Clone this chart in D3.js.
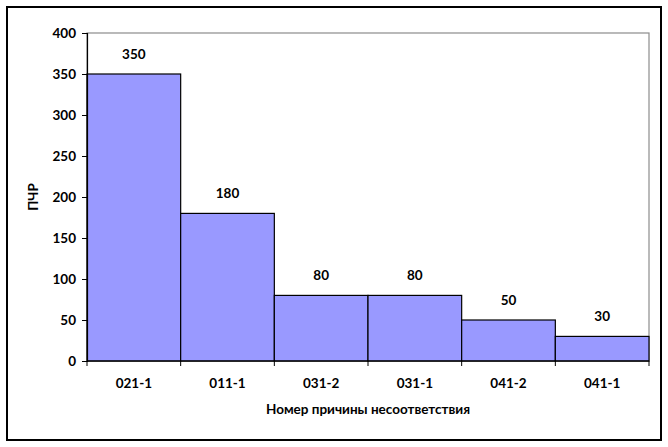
<!DOCTYPE html>
<html><head><meta charset="utf-8">
<script src="https://cdn.jsdelivr.net/npm/d3@7"></script>
<style>
html,body{margin:0;padding:0;background:#fff;}
svg text{font-family:Lato,"DejaVu Sans",sans-serif;font-weight:bold;font-size:13.5px;fill:#000;}
</style></head>
<body>
<svg id="c" width="668" height="447"></svg>
<script>
const categories = ["021-1","011-1","031-2","031-1","041-2","041-1"];
const values = [350,180,80,80,50,30];
const yTicks = [0,50,100,150,200,250,300,350,400];
const xTitle = "Номер причины несоответствия";
const yTitle = "ПЧР";

const svg = d3.select("#c");
const m = {left:87, top:33, right:649, bottom:361};

svg.append("rect").attr("x",7).attr("y",7).attr("width",654).attr("height",433)
  .attr("fill","#fff").attr("stroke","#000").attr("stroke-width",2);

const x = d3.scaleBand().domain(categories).range([m.left,m.right]).padding(0);
const y = d3.scaleLinear().domain([0,400]).range([m.bottom,m.top]);

svg.append("rect").attr("x",m.left).attr("y",m.top).attr("width",m.right-m.left).attr("height",m.bottom-m.top)
  .attr("fill","none").attr("stroke","#8c8c8c").attr("stroke-width",1.2);

svg.selectAll("rect.bar").data(values).enter().append("rect").attr("class","bar")
  .attr("x",(d,i)=>x(categories[i]))
  .attr("y",d=>y(d))
  .attr("width",x.bandwidth())
  .attr("height",d=>y(0)-y(d))
  .attr("fill","#9999ff").attr("stroke","#000").attr("stroke-width",1.2);

svg.selectAll("text.val").data(values).enter().append("text").attr("class","val")
  .attr("x",(d,i)=>x(categories[i])+x.bandwidth()/2)
  .attr("y",d=>y(d)-15)
  .attr("text-anchor","middle").text(d=>d);

const ya = svg.append("g").attr("transform",`translate(${m.left},0)`)
  .call(d3.axisLeft(y).tickValues(yTicks).tickSize(5).tickPadding(6));
ya.select(".domain").attr("stroke","#000").attr("stroke-width",1.2);
ya.selectAll(".tick line").attr("stroke","#000");
ya.selectAll("text").style("font-size","13.5px").style("font-family","Lato, sans-serif").style("font-weight","bold");

const xa = svg.append("g").attr("transform",`translate(0,${m.bottom})`);
xa.append("line").attr("x1",m.left).attr("x2",m.right).attr("y1",0).attr("y2",0).attr("stroke","#000").attr("stroke-width",1.2);
const bounds = categories.map(c=>x(c)).concat([x(categories[categories.length-1])+x.bandwidth()]);
xa.selectAll("line.t").data(bounds).enter().append("line").attr("class","t")
  .attr("x1",d=>d).attr("x2",d=>d).attr("y1",0).attr("y2",5).attr("stroke","#000");
xa.selectAll("text").data(categories).enter().append("text")
  .attr("x",d=>x(d)+x.bandwidth()/2).attr("y",27).attr("text-anchor","middle").text(d=>d);

svg.append("text").attr("x",(m.left+m.right)/2).attr("y",414).attr("text-anchor","middle").text(xTitle);
svg.append("text").attr("transform",`translate(38,${(m.top+m.bottom)/2}) rotate(-90)`).attr("text-anchor","middle").text(yTitle);
</script>
</body></html>
